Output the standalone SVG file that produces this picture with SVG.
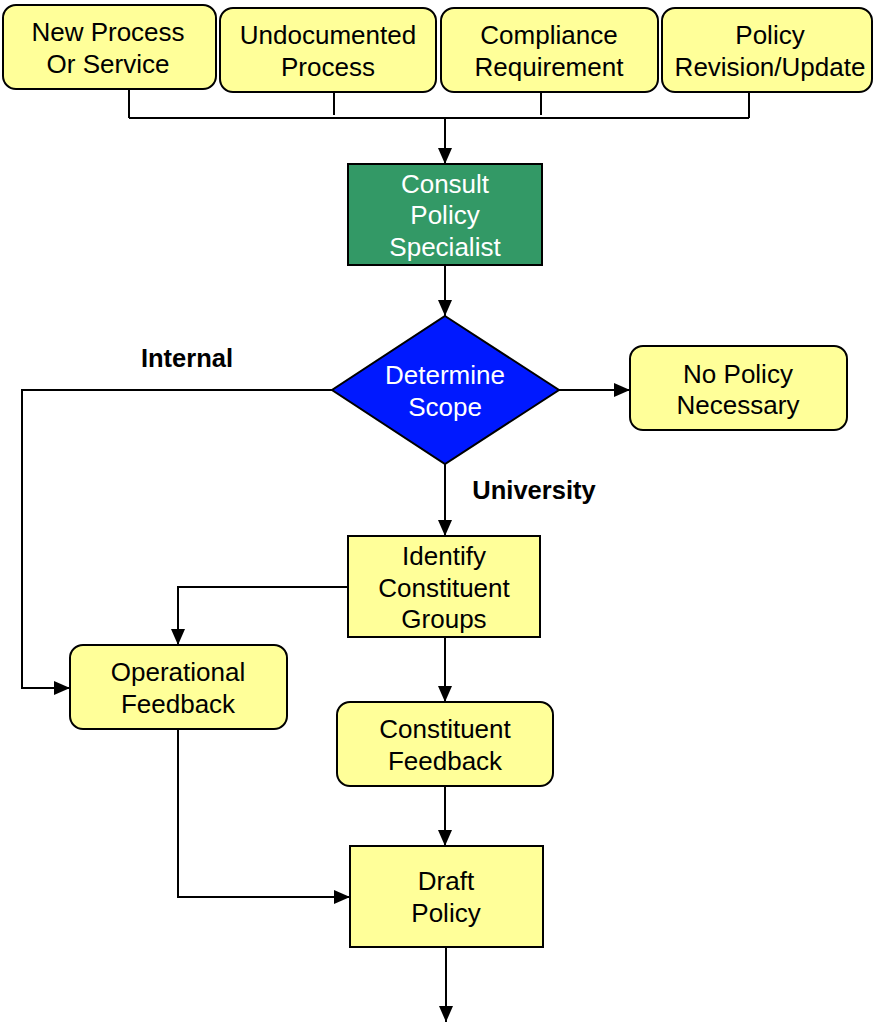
<svg xmlns="http://www.w3.org/2000/svg" width="873" height="1022" viewBox="0 0 873 1022">
<style>
.box{fill:#FFFF99;stroke:#000;stroke-width:2}
.t{font-family:"Liberation Sans",Arial,sans-serif;font-size:26px;fill:#000;text-anchor:middle}
.w{fill:#fff}
.lbl{font-family:"Liberation Sans",Arial,sans-serif;font-size:25.5px;font-weight:bold;fill:#000;text-anchor:middle}
.c{fill:none;stroke:#000;stroke-width:2}
.ca{fill:none;stroke:#000;stroke-width:2;marker-end:url(#ah)}
</style>
<defs>
<marker id="ah" markerUnits="userSpaceOnUse" markerWidth="16" markerHeight="14" refX="16" refY="7" orient="auto">
<path d="M0,0 L16,7 L0,14 z" fill="#000"/>
</marker>
</defs>
<rect width="873" height="1022" fill="#fff"/>
<g id="connectors">
<path class="c" d="M129,89 V118 M334,92 V115 M541,92 V115 M749,92 V118 M129,118 H749"/>
<path class="ca" d="M445,118 V164"/>
<path class="ca" d="M445,265 V316"/>
<path class="ca" d="M332,390 H22 V688 H70"/>
<path class="ca" d="M559,390 H630"/>
<path class="ca" d="M445,464 V536"/>
<path class="ca" d="M348,587 H178 V645"/>
<path class="ca" d="M445,637 V702"/>
<path class="ca" d="M445,786 V846"/>
<path class="ca" d="M178,729 V897 H350"/>
<path class="ca" d="M446,947 V1022"/>
</g>
<g id="label-internal"><text class="lbl" x="187" y="367">Internal</text></g>
<g id="label-university"><text class="lbl" x="534" y="499">University</text></g>
<g id="n-new">
<rect class="box" x="3" y="5" width="213" height="84" rx="13"/>
<text class="t" x="108" y="41">New Process</text>
<text class="t" x="108" y="73">Or Service</text>
</g>
<g id="n-undoc">
<rect class="box" x="220" y="8" width="216" height="84" rx="13"/>
<text class="t" x="328" y="44">Undocumented</text>
<text class="t" x="328" y="76">Process</text>
</g>
<g id="n-compl">
<rect class="box" x="441" y="8" width="217" height="84" rx="13"/>
<text class="t" x="549" y="44">Compliance</text>
<text class="t" x="549" y="76">Requirement</text>
</g>
<g id="n-rev">
<rect class="box" x="662" y="8" width="210" height="84" rx="13"/>
<text class="t" x="770" y="44">Policy</text>
<text class="t" x="770" y="76">Revision/Update</text>
</g>
<g id="n-consult">
<rect x="348" y="164" width="194" height="101" fill="#339966" stroke="#000" stroke-width="2"/>
<text class="t w" x="445" y="193">Consult</text>
<text class="t w" x="445" y="224">Policy</text>
<text class="t w" x="445" y="256">Specialist</text>
</g>
<g id="n-scope">
<polygon points="445,316 559,390 445,464 332,390" fill="#0019FF" stroke="#000" stroke-width="2"/>
<text class="t w" x="445" y="384">Determine</text>
<text class="t w" x="445" y="416">Scope</text>
</g>
<g id="n-nopolicy">
<rect class="box" x="630" y="346" width="217" height="84" rx="13"/>
<text class="t" x="738" y="383">No Policy</text>
<text class="t" x="738" y="414">Necessary</text>
</g>
<g id="n-identify">
<rect class="box" x="348" y="536" width="192" height="101"/>
<text class="t" x="444" y="565">Identify</text>
<text class="t" x="444" y="597">Constituent</text>
<text class="t" x="444" y="628">Groups</text>
</g>
<g id="n-operational">
<rect class="box" x="70" y="645" width="217" height="84" rx="13"/>
<text class="t" x="178" y="681">Operational</text>
<text class="t" x="178" y="713">Feedback</text>
</g>
<g id="n-constituent">
<rect class="box" x="337" y="702" width="216" height="84" rx="13"/>
<text class="t" x="445" y="738">Constituent</text>
<text class="t" x="445" y="770">Feedback</text>
</g>
<g id="n-draft">
<rect class="box" x="350" y="846" width="193" height="101"/>
<text class="t" x="446" y="890">Draft</text>
<text class="t" x="446" y="922">Policy</text>
</g>
</svg>
